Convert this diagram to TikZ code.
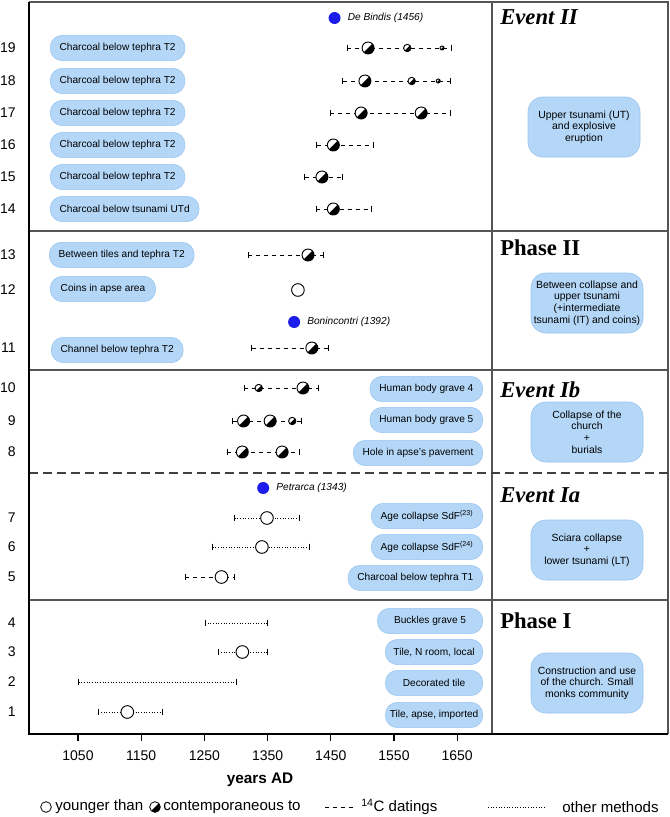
\documentclass[tikz,border=0pt]{standalone}
\usepackage{fontspec}
\setmainfont{Liberation Sans}
\newfontfamily\titlefont{Liberation Serif}
\usetikzlibrary{positioning}
\definecolor{bubble}{RGB}{180,215,248}
\definecolor{bubbleline}{RGB}{150,195,240}
\definecolor{dotblue}{RGB}{28,28,235}
\definecolor{framegray}{RGB}{85,85,85}

\begin{document}
\begin{tikzpicture}[x=0.75pt,y=-0.75pt,
    lbl/.style={fill=bubble,draw=bubbleline,line width=0.4pt,rounded corners=9pt,
        minimum height=19pt,inner xsep=7pt,font=\fontsize{7.6}{9}\selectfont},
    lblone/.style={lbl,inner xsep=2.5pt,minimum width=73pt},
    phasebox/.style={fill=bubble,draw=bubbleline,line width=0.4pt,rounded corners=11pt,
        minimum width=84pt,minimum height=45pt,inner xsep=2pt,align=center,
        font=\fontsize{7.8}{8.7}\selectfont},
    num/.style={anchor=east,inner sep=0pt,font=\fontsize{10.5}{12}\selectfont},
    title/.style={anchor=west,inner sep=0pt,font=\titlefont\bfseries\fontsize{17}{20}\selectfont},
    legtext/.style={anchor=west,inner sep=0pt,font=\fontsize{11.3}{13}\selectfont},
    younger/.style={circle,draw,fill=white,line width=0.7pt,inner sep=0pt,minimum size=9.5pt},
    contemp/.style={circle,draw,fill=white,line width=0.7pt,inner sep=0pt,minimum size=9pt,
        path picture={\fill[black] (path picture bounding box.north east)
            -- (path picture bounding box.south east)
            -- (path picture bounding box.south west) -- cycle;}},
    cdate/.style={line width=0.5pt,dash pattern=on 2.8pt off 3.2pt},
    odate/.style={line width=0.5pt,dash pattern=on 0.8pt off 1.2pt},
    endbar/.style={line width=0.6pt},
    histdot/.style={circle,fill=dotblue,inner sep=0pt,minimum size=9pt},
    histname/.style={inner sep=0pt,font=\itshape\fontsize{7.6}{9}\selectfont},
    frame/.style={draw=framegray,line width=1.3pt}]

    \useasboundingbox (0,0) rectangle (670,817);

    % frame and sections
    \draw[frame] (29,2) -- (668,2) -- (668,734);
    \draw[frame] (29,231) -- (668,231);
    \draw[frame] (29,370) -- (668,370);
    \draw[frame] (29,600) -- (668,600);
    \draw[frame] (492,2) -- (492,734);
    \draw[line width=1pt,black!75,dash pattern=on 7pt off 3.5pt] (29,473) -- (668,473);
    \draw[line width=1pt] (29,2) -- (29,734) -- (668,734);

    % data, x in years
    \begin{scope}[x=0.474pt,xshift=-439.2pt]
    \foreach \r/\yy/\lo/\hi/\kind in {19/48/1476/1641/cdate,18/81/1469/1640/cdate,
        17/113/1449/1639/cdate,16/145/1428/1518/cdate,15/177/1409/1469/cdate,
        14/209/1427/1515/cdate,13/255/1319/1438/cdate,11/348/1325/1446/cdate,
        10/388/1313/1430/cdate,9/421/1295/1404/cdate,8/452/1286/1400/cdate,
        7/518/1298/1401/odate,6/547/1263/1416/odate,5/577/1220/1298/cdate,
        4/623/1251/1350/odate,3/652/1272/1350/odate,2/682/1051/1300/odate,
        1/712/1082/1183/odate}
    {
        \coordinate (lo\r) at (\lo,\yy);
        \coordinate (hi\r) at (\hi,\yy);
        \draw[\kind] (lo\r) -- (hi\r);
        \draw[endbar] ([yshift=2.6pt]lo\r) -- ([yshift=-2.6pt]lo\r);
        \draw[endbar] ([yshift=2.6pt]hi\r) -- ([yshift=-2.6pt]hi\r);
    }

    \foreach \yy/\yr/\s [count=\i] in {48/1509/9,48/1571/5.5,48/1626/3,
        81/1504/9,81/1578/5.5,81/1620/3,113/1498/9,113/1593/9,145/1454/9,
        177/1436/9,209/1454/9,255/1414/9,348/1420/9,388/1336/5.5,388/1406/9,
        421/1312/9,421/1354/9,421/1389/5.5,452/1310/9,452/1373/9}
        \node[contemp,minimum size=\s pt] (h\i) at (\yr,\yy) {};

    \foreach \yy/\yr [count=\i] in {290/1398,518/1349,547/1341,577/1277,652/1310,712/1128}
        \node[younger] (o\i) at (\yr,\yy) {};

    \node[histdot] (bindis) at (1456,18) {};
    \node[histname,right=5pt of bindis] (bindisname) {De Bindis (1456)};
    \node[histdot] (bonin) at (1392,322) {};
    \node[histname,right=5pt of bonin] (boninname) {Bonincontri (1392)};
    \node[histdot] (petr) at (1343,488) {};
    \node[histname,right=5pt of petr] (petrname) {Petrarca (1343)};

    \foreach \yr in {1050,1150,...,1650} {
        \draw[line width=0.8pt] (\yr,734) -- (\yr,741);
        \node[font=\fontsize{10.5}{12}\selectfont] (t\yr) at (\yr,756) {\yr};
    }
    \end{scope}

    % row numbers
    \foreach \n/\yy in {19/48,18/81,17/113,16/145,15/177,14/209,13/255,12/290,11/348,
        10/388,9/421,8/452,7/518,6/547,5/577,4/623,3/652,2/682,1/712}
        \node[num] (n\n) at (16,\yy) {\n};

    % sample labels
    \node[lbl,anchor=west] (l19) at (50,48) {Charcoal below tephra T2};
    \node[lbl,anchor=west] (l18) at (50,81) {Charcoal below tephra T2};
    \node[lbl,anchor=west] (l17) at (50,113) {Charcoal below tephra T2};
    \node[lbl,anchor=west] (l16) at (50,145) {Charcoal below tephra T2};
    \node[lbl,anchor=west] (l15) at (50,177) {Charcoal below tephra T2};
    \node[lbl,anchor=west] (l14) at (50,209) {Charcoal below tsunami UTd};
    \node[lbl,anchor=west] (l13) at (49,255) {Between tiles and tephra T2};
    \node[lbl,anchor=west,minimum width=79pt] (l12) at (50,289) {Coins in apse area};
    \node[lbl,anchor=west] (l11) at (51,350) {Channel below tephra T2};
    \node[lbl,anchor=east] (l10) at (483,389) {Human body grave 4};
    \node[lbl,anchor=east] (l9) at (483,420) {Human body grave 5};
    \node[lbl,anchor=east] (l8) at (483,453) {Hole in apse's pavement};
    \node[lbl,anchor=east] (l7) at (483,516) {Age collapse SdF\textsuperscript{(23)}};
    \node[lbl,anchor=east] (l6) at (483,547) {Age collapse SdF\textsuperscript{(24)}};
    \node[lbl,anchor=east] (l5) at (483,578) {Charcoal below tephra T1};
    \node[lblone,anchor=east,minimum width=79pt] (l4) at (483,621) {Buckles grave 5};
    \node[lblone,anchor=east] (l3) at (483,652) {Tile, N room, local};
    \node[lblone,anchor=east] (l2) at (483,683) {Decorated tile};
    \node[lblone,anchor=east] (l1) at (483,715) {Tile, apse, imported};

    % phases and events
    \node[title] (te2) at (500,17) {\itshape Event II};
    \node[title] (tp2) at (500,248) {Phase II};
    \node[title] (te1b) at (500,390) {\itshape Event Ib};
    \node[title] (te1a) at (500,495) {\itshape Event Ia};
    \node[title] (tp1) at (500,621) {Phase I};

    \node[phasebox] (be2) at (584,127) {Upper tsunami (UT)\\and explosive\\eruption};
    \node[phasebox] (bp2) at (587,303) {Between collapse and\\upper tsunami\\(+intermediate\\tsunami (IT) and coins)};
    \node[phasebox] (be1b) at (587,432) {Collapse of the\\church\\+\\burials};
    \node[phasebox] (be1a) at (587,550) {Sciara collapse\\+\\lower tsunami (LT)};
    \node[phasebox] (bp1) at (587,683) {Construction and use\\of the church. Small\\monks community};

    % axis title and legend
    \node[font=\bfseries\fontsize{11.5}{13}\selectfont] (axis) at (260,780) {years AD};

    \node[younger,minimum size=8pt,line width=0.6pt] (leg1) at (46,807) {};
    \node[legtext] (leg1t) at (55,807) {younger than};
    \node[contemp,minimum size=8pt,line width=0.6pt] (leg2) at (155,807) {};
    \node[legtext] (leg2t) at (163,807) {contemporaneous to};
    \coordinate (leg3a) at (325,807);
    \coordinate (leg3b) at (356,807);
    \draw[cdate] (leg3a) -- (leg3b);
    \node[legtext] (leg3t) at (361,807) {\textsuperscript{14}C datings};
    \coordinate (leg4a) at (488,807);
    \coordinate (leg4b) at (546,807);
    \draw[odate] (leg4a) -- (leg4b);
    \node[legtext] (leg4t) at (562,807) {other methods};

\end{tikzpicture}
\end{document}
